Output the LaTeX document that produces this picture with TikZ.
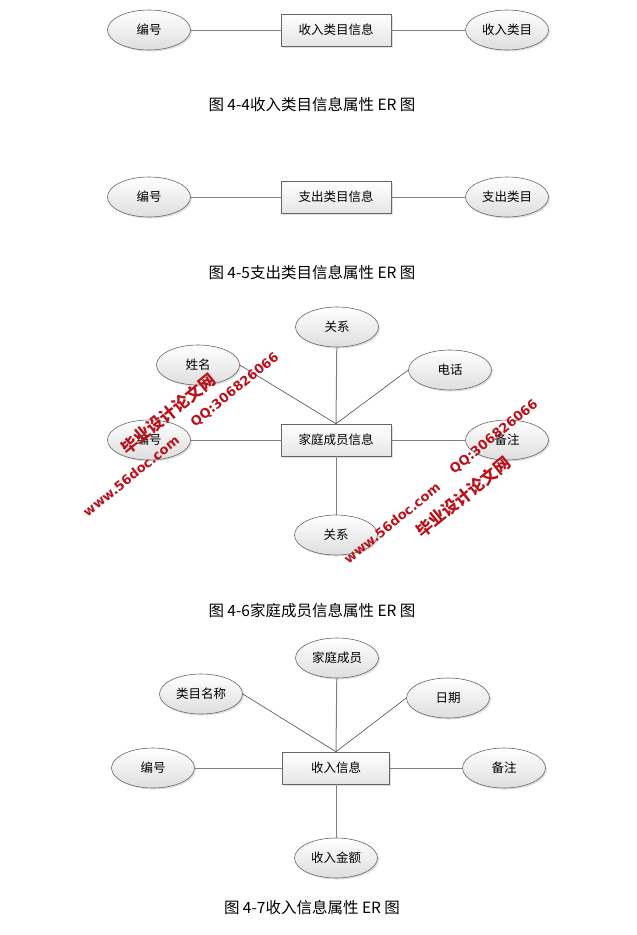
\documentclass[tikz,border=0pt]{standalone}
\usepackage{fontspec}
\newfontfamily\cjk{Noto Sans CJK SC}
\newfontfamily\wmfont{DejaVu Sans}
\usetikzlibrary{shapes,shadows}
\definecolor{wmred}{RGB}{185,18,28}
\tikzstyle{attr}=[ellipse,draw=black!60,line width=.6pt,top color=white,bottom color=black!13,
drop shadow={opacity=.25,shadow xshift=1.5pt,shadow yshift=-1.5pt},
minimum width=83pt,minimum height=40pt,inner sep=0pt]
\tikzstyle{entity}=[rectangle,draw=black!60,line width=.6pt,top color=white,bottom color=black!10,
drop shadow={opacity=.25,shadow xshift=1.5pt,shadow yshift=-1.5pt},
minimum width=110pt,minimum height=32pt,inner sep=0pt]
\tikzstyle{line}=[black!50,line width=1pt]
\tikzstyle{caption}=[font=\cjk\fontsize{15.5}{18}\selectfont]
\tikzstyle{wmtext}=[text=wmred,rotate=39,font=\wmfont\bfseries\fontsize{13}{15}\selectfont]
\tikzstyle{wmcjk}=[text=wmred,rotate=39,font=\cjk\bfseries\fontsize{16.5}{18}\selectfont]

\begin{document}
\begin{tikzpicture}[x=1pt,y=-1pt,font=\cjk\fontsize{12.5}{14}\selectfont]
	\useasboundingbox (0,0) rectangle (637,935);

	% 4-4
	\node[entity] (srlm) at (336,30) {收入类目信息};
	\node[attr] (srlm-id) at (149,30) {编号};
	\node[attr] (srlm-name) at (507,30) {收入类目};
	\draw[line] (srlm-id) -- (srlm);
	\draw[line] (srlm) -- (srlm-name);
	\node[caption] (cap44) at (312,105) {图 4-4收入类目信息属性 ER 图};

	% 4-5
	\node[entity] (zclm) at (336,197) {支出类目信息};
	\node[attr] (zclm-id) at (149,197) {编号};
	\node[attr] (zclm-name) at (507,197) {支出类目};
	\draw[line] (zclm-id) -- (zclm);
	\draw[line] (zclm) -- (zclm-name);
	\node[caption] (cap45) at (312,273) {图 4-5支出类目信息属性 ER 图};

	% 4-6
	\node[entity] (jtcy) at (336,440) {家庭成员信息};
	\node[attr] (jtcy-gx1) at (337,327) {关系};
	\node[attr] (jtcy-xm) at (198,365) {姓名};
	\node[attr] (jtcy-dh) at (450,370) {电话};
	\node[attr] (jtcy-id) at (149,440) {编号};
	\node[attr] (jtcy-bz) at (507,440) {备注};
	\node[attr] (jtcy-gx2) at (336,535) {关系};
	\draw[line] (jtcy-gx1) -- (jtcy.north);
	\draw[line,black!70,line width=.6pt] (jtcy-xm.east) -- (jtcy.north);
	\draw[line,black!70,line width=.6pt] (jtcy-dh.west) -- (jtcy.north);
	\draw[line] (jtcy-id) -- (jtcy);
	\draw[line] (jtcy) -- (jtcy-bz);
	\draw[line] (jtcy) -- (jtcy-gx2);
	\node[caption] (cap46) at (312,611) {图 4-6家庭成员信息属性 ER 图};

	% 4-7
	\node[entity,minimum width=107pt] (srxx) at (336,768) {收入信息};
	\node[attr] (srxx-cy) at (337,658) {家庭成员};
	\node[attr] (srxx-lm) at (201,694) {类目名称};
	\node[attr] (srxx-rq) at (448,698) {日期};
	\node[attr] (srxx-id) at (153,768) {编号};
	\node[attr] (srxx-bz) at (504,768) {备注};
	\node[attr] (srxx-je) at (336,858) {收入金额};
	\draw[line] (srxx-cy) -- (srxx.north);
	\draw[line,black!70,line width=.6pt] (srxx-lm.east) -- (srxx.north);
	\draw[line,black!70,line width=.6pt] (srxx-rq.west) -- (srxx.north);
	\draw[line] (srxx-id) -- (srxx);
	\draw[line] (srxx) -- (srxx-bz);
	\draw[line] (srxx) -- (srxx-je);
	\node[caption] (cap47) at (312,908) {图 4-7收入信息属性 ER 图};

	%watermark
	\node[wmtext] (wm1-url) at (131,476) {www.56doc.com};
	\node[wmcjk] (wm1-name) at (168,414) {毕业设计论文网};
	\node[wmtext] (wm1-qq) at (235,390) {QQ:306826066};
	\node[wmtext] (wm2-url) at (392,523) {www.56doc.com};
	\node[wmcjk] (wm2-name) at (463,497) {毕业设计论文网};
	\node[wmtext] (wm2-qq) at (494,437) {QQ:306826066};
\end{tikzpicture}
\end{document}
